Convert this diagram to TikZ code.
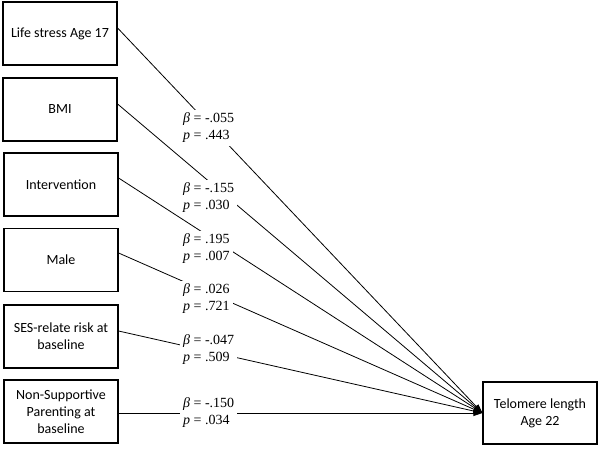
\documentclass[tikz,border=0pt]{standalone}
\usepackage{fontspec}
\setmainfont{Carlito}
\newfontfamily\lblfont{Liberation Serif}
\usetikzlibrary{arrows.meta}
\tikzset{
  varbox/.style={draw, line width=1.2pt, minimum width=114pt, minimum height=63pt,
    align=center, inner sep=2pt, font=\fontsize{14}{17}\selectfont},
  coef/.style={fill=white, align=left, anchor=west, inner sep=3pt,
    font=\lblfont\fontsize{14}{17}\selectfont},
  link/.style={line width=0.8pt, -{Triangle[length=9pt,width=6pt]}}
}
\begin{document}
\begin{tikzpicture}[x=1pt,y=-1pt]
\useasboundingbox (0,0) rectangle (600,448);
\node[varbox] (b1) at (60,33.5) {Life stress Age 17};
\node[varbox] (b2) at (60,109.5) {BMI};
\node[varbox] (b3) at (61,184.5) {Intervention};
\node[varbox] (b4) at (61,260) {Male};
\node[varbox] (b5) at (61,336.5) {SES-relate risk at\\baseline};
\node[varbox] (b6) at (61,411.5) {Non-Supportive\\Parenting at\\baseline};
\node[varbox, minimum height=62pt] (t) at (540,413) {Telomere length\\Age 22};

\draw[link] ([yshift=5.5pt]b1.east) -- (t.west);
\draw[link] ([yshift=5.5pt]b2.east) -- (t.west);
\draw[link] ([yshift=6.5pt]b3.east) -- (t.west);
\draw[link] ([yshift=7pt]b4.east) -- (t.west);
\draw[link] ([yshift=5.5pt]b5.east) -- (t.west);
\draw[link] ([yshift=-1.5pt]b6.east) -- (t.west);

\node[coef] (c1) at (180,128) {\textit{β} = -.055\\\textit{p} = .443};
\node[coef] (c2) at (180,198) {\textit{β} = -.155\\\textit{p} = .030};
\node[coef] (c3) at (180,249) {\textit{β} = .195\\\textit{p} = .007};
\node[coef] (c4) at (180,299) {\textit{β} = .026\\\textit{p} = .721};
\node[coef] (c5) at (180,350) {\textit{β} = -.047\\\textit{p} = .509};
\node[coef] (c6) at (180,413) {\textit{β} = -.150\\\textit{p} = .034};
\end{tikzpicture}
\end{document}
